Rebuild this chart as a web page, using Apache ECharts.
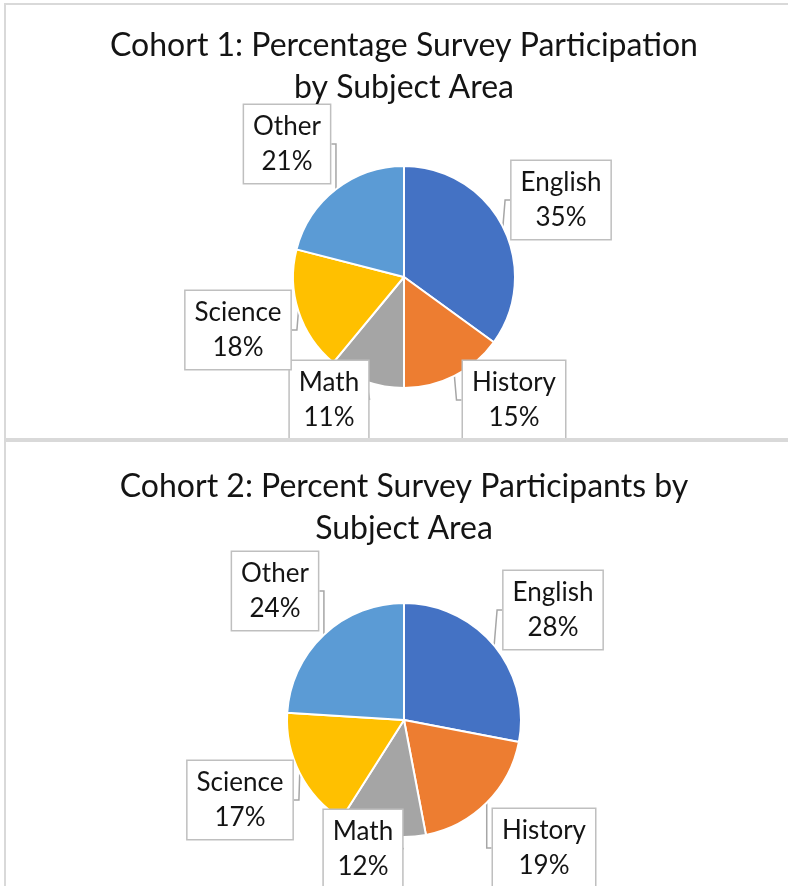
<!DOCTYPE html>
<html>
<head>
<meta charset="utf-8">
<script src="https://cdn.jsdelivr.net/npm/echarts@6/dist/echarts.min.js"></script>
<style>
  html, body { margin: 0; padding: 0; background: #fff; overflow: hidden; }
  .panel { position: absolute; left: 4px; width: 800px; border: 2px solid #d9d9d9; overflow: hidden; box-sizing: border-box; background: #fff; }
  .chart { position: absolute; left: -6px; width: 788px; height: 886px; }
</style>
</head>
<body>
<div class="panel" style="top:3px;height:437px"><div id="c1" class="chart" style="top:-5px"></div></div>
<div class="panel" style="top:440px;height:460px"><div id="c2" class="chart" style="top:-442px"></div></div>
<script>
var subjects = ['English', 'History', 'Math', 'Science', 'Other'];
var cohort1Values = [35, 15, 11, 18, 21];
var cohort2Values = [28, 19, 12, 17, 24];
var sliceColors = ['#4472C4', '#ED7D31', '#A5A5A5', '#FFC000', '#5B9BD5'];
var cohort1Title = 'Cohort 1: Percentage Survey Participation\nby Subject Area';
var cohort2Title = 'Cohort 2: Percent Survey Participants by\nSubject Area';

var font = 'Lato, "Open Sans", sans-serif';
var ink = '#141414';

function buildPie(el, title, titleTop, values, center, radius, labelPos) {
  var chart = echarts.init(document.getElementById(el), null, { renderer: 'canvas' });
  chart.setOption({
    animation: false,
    title: {
      text: title,
      left: 404,
      top: titleTop,
      padding: 0,
      textAlign: 'center',
      textStyle: { fontFamily: font, fontSize: 32, fontWeight: 'normal', color: ink, lineHeight: 42 }
    },
    series: [{
      type: 'pie',
      center: center,
      radius: radius,
      startAngle: 90,
      clockwise: true,
      avoidLabelOverlap: false,
      data: subjects.map(function(s, i) {
        return { name: s, value: values[i], itemStyle: { color: sliceColors[i] } };
      }),
      itemStyle: { borderColor: '#fff', borderWidth: 2 },
      label: {
        show: true,
        position: 'outside',
        formatter: '{b}\n{c}%',
        fontFamily: font,
        fontSize: 26,
        lineHeight: 35,
        color: ink,
        align: 'center',
        backgroundColor: '#fff',
        borderColor: '#bfbfbf',
        borderWidth: 1.5,
        padding: [4, 9, 4, 9]
      },
      labelLine: { show: true, length: 10, length2: 5, lineStyle: { color: '#a6a6a6', width: 1.5 } },
      labelLayout: function(p) {
        var pos = labelPos[p.dataIndex];
        return { x: pos[0], y: pos[1], align: 'center', verticalAlign: 'middle' };
      }
    }]
  });
  return chart;
}

buildPie('c1', cohort1Title, 25, cohort1Values, [404, 277], 111,
  [[561, 200], [514, 400], [329, 400], [238, 330], [287, 144]]);
buildPie('c2', cohort2Title, 466, cohort2Values, [404, 720], 117,
  [[553, 610], [544, 848], [363, 849], [240, 800], [275, 591]]);
</script>
</body>
</html>
